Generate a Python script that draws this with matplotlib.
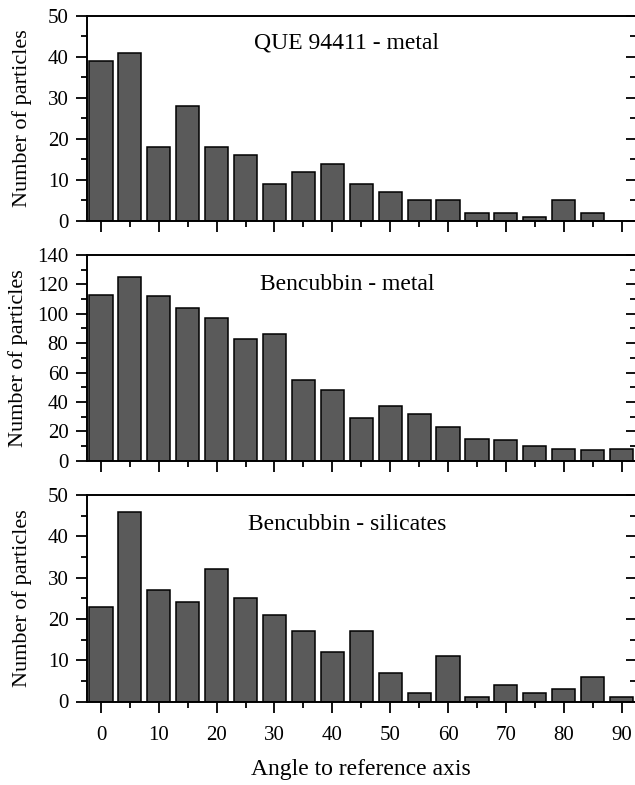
# Istogrammi dell'angolo rispetto all'asse di riferimento (tre pannelli)
import matplotlib
matplotlib.use("Agg")
import matplotlib.pyplot as plt
from matplotlib.ticker import MultipleLocator

plt.rcParams['font.family'] = ['Liberation Serif', 'DejaVu Serif']

# Dati
angoli = [0, 5, 10, 15, 20, 25, 30, 35, 40, 45, 50, 55, 60, 65, 70, 75, 80, 85, 90]
que_metal = [39, 41, 18, 28, 18, 16, 9, 12, 14, 9, 7, 5, 5, 2, 2, 1, 5, 2, 0]
benc_metal = [113, 125, 112, 104, 97, 83, 86, 55, 48, 29, 37, 32, 23, 15, 14, 10, 8, 7, 8]
benc_silicates = [23, 46, 27, 24, 32, 25, 21, 17, 12, 17, 7, 2, 11, 1, 4, 2, 3, 6, 1]

titoli = ["QUE 94411 - metal", "Bencubbin - metal", "Bencubbin - silicates"]
serie = [que_metal, benc_metal, benc_silicates]
y_max = [50, 140, 50]
y_major = [10, 20, 10]
y_title = [42.1, 116.5, 41.5]

W, H = 635, 785
fig = plt.figure(figsize=(W / 100, H / 100), dpi=100)

# posizioni degli assi in pixel: (alto, basso)
pannelli = [(15.7, 221.0), (255.0, 460.7), (495.0, 701.5)]
left_px, right_px = 86.5, 636.0
ylabel_x = [-0.099, -0.106, -0.099]

for i, (top, bot) in enumerate(pannelli):
    ax = fig.add_axes([left_px / W, (H - bot) / H, (right_px - left_px) / W, (bot - top) / H])
    ax.bar(angoli, serie[i], width=4, color='#5a5a5a', edgecolor='black', linewidth=1.1, zorder=2)
    ax.set_xlim(-2.5, 92.5)
    ax.set_ylim(0, y_max[i])

    ax.xaxis.set_major_locator(MultipleLocator(10))
    ax.xaxis.set_minor_locator(MultipleLocator(5))
    ax.yaxis.set_major_locator(MultipleLocator(y_major[i]))
    ax.yaxis.set_minor_locator(MultipleLocator(y_major[i] / 2))

    for s in ax.spines.values():
        s.set_linewidth(1.4)

    ax.tick_params(axis='both', which='both', direction='out', width=1.3, labelsize=15)
    ax.tick_params(axis='both', which='major', length=8)
    ax.tick_params(axis='both', which='minor', length=4.5)
    ax.tick_params(axis='x', pad=10)
    ax.tick_params(axis='y', pad=5)
    if i < 2:
        ax.tick_params(axis='x', labelbottom=False)
    else:
        ax.set_xlabel("Angle to reference axis", fontsize=17, labelpad=10)

    # tacche interne sul lato destro
    sec = ax.secondary_yaxis('right')
    sec.yaxis.set_major_locator(MultipleLocator(y_major[i]))
    sec.yaxis.set_minor_locator(MultipleLocator(y_major[i] / 2))
    sec.tick_params(which='both', direction='in', width=1.3, labelright=False)
    sec.tick_params(which='major', length=7)
    sec.tick_params(which='minor', length=4)
    sec.spines['right'].set_linewidth(1.4)

    ax.set_ylabel("Number of particles", fontsize=16)
    ax.yaxis.set_label_coords(ylabel_x[i], 0.5)

    ax.text(42.5, y_title[i], titoli[i], fontsize=17, ha='center', va='baseline')

fig.savefig("out.png", dpi=100)
